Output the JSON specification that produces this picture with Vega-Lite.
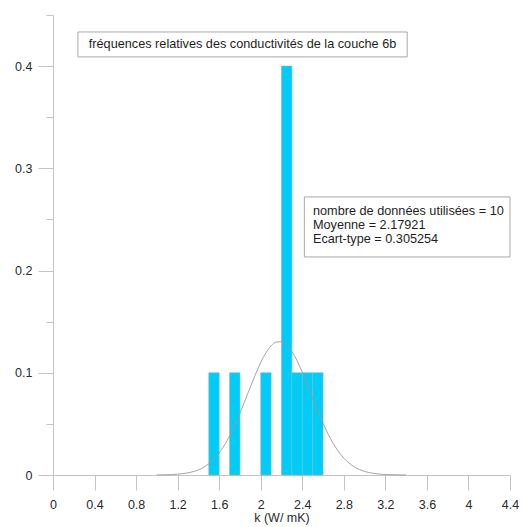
{
  "$schema": "https://vega.github.io/schema/vega-lite/v6.json",
  "width": 457,
  "height": 460,
  "autosize": "none",
  "padding": {"left": 53, "top": 15, "right": 18, "bottom": 52},
  "background": "white",
  "config": {"view": {"stroke": null}, "font": "Liberation Sans"},
  "layer": [
    {
      "data": {"values": [
        {"k": 1.5, "k2": 1.6, "f": 0.1},
        {"k": 1.7, "k2": 1.8, "f": 0.1},
        {"k": 2.0, "k2": 2.1, "f": 0.1},
        {"k": 2.2, "k2": 2.3, "f": 0.4},
        {"k": 2.3, "k2": 2.4, "f": 0.1},
        {"k": 2.4, "k2": 2.5, "f": 0.1},
        {"k": 2.5, "k2": 2.6, "f": 0.1}
      ]},
      "mark": {"type": "rect", "fill": "#00CCF8", "stroke": "#7fb8c4", "strokeWidth": 0.6},
      "encoding": {
        "x": {"field": "k", "type": "quantitative",
          "scale": {"domain": [0, 4.4], "nice": false, "zero": false},
          "axis": {
            "title": "k (W/ mK)",
            "values": [0,0.2,0.4,0.6,0.8,1,1.2,1.4,1.6,1.8,2,2.2,2.4,2.6,2.8,3,3.2,3.4,3.6,3.8,4,4.2,4.4],
            "format": "~g",
            "labelExpr": "round(datum.value*10)%4==0 ? datum.label : ''",
            "tickSize": {"condition": {"test": "round(datum.value*10)%4!=0", "value": 8}, "value": 15},
            "grid": false,
            "domainColor": "#c4c4c4", "tickColor": "#c4c4c4",
            "labelColor": "#2a2a2a", "labelFontSize": 12.5, "labelPadding": 8,
            "labelFlush": false, "labelOverlap": false,
            "titleColor": "#2a2a2a", "titleFontSize": 12.5, "titleFontWeight": "normal", "titlePadding": 1
          }
        },
        "x2": {"field": "k2"},
        "y": {"field": "f", "type": "quantitative",
          "scale": {"domain": [0, 0.45], "nice": false},
          "axis": {
            "title": null,
            "values": [0,0.05,0.1,0.15,0.2,0.25,0.3,0.35,0.4,0.45],
            "format": "~g",
            "labelExpr": "round(datum.value*100)%10==0 ? datum.label : ''",
            "tickSize": {"condition": {"test": "round(datum.value*100)%10!=0", "value": 7}, "value": 15},
            "grid": false,
            "domainColor": "#c4c4c4", "tickColor": "#c4c4c4",
            "labelColor": "#2a2a2a", "labelFontSize": 12.5, "labelPadding": 6,
            "labelFlush": false, "labelOverlap": false
          }
        },
        "y2": {"datum": 0}
      }
    },
    {
      "data": {"values": [
        {"k": 1.00, "f": 0.0001}, {"k": 1.05, "f": 0.0001}, {"k": 1.10, "f": 0.0003}, {"k": 1.15, "f": 0.0004},
        {"k": 1.20, "f": 0.0008}, {"k": 1.25, "f": 0.0013}, {"k": 1.30, "f": 0.0021}, {"k": 1.35, "f": 0.0033},
        {"k": 1.40, "f": 0.0050}, {"k": 1.45, "f": 0.0075}, {"k": 1.50, "f": 0.0110}, {"k": 1.55, "f": 0.0156},
        {"k": 1.60, "f": 0.0216}, {"k": 1.65, "f": 0.0291}, {"k": 1.70, "f": 0.0381}, {"k": 1.75, "f": 0.0486},
        {"k": 1.80, "f": 0.0604}, {"k": 1.85, "f": 0.0731}, {"k": 1.90, "f": 0.0860}, {"k": 1.95, "f": 0.0986},
        {"k": 2.00, "f": 0.1100}, {"k": 2.05, "f": 0.1195}, {"k": 2.10, "f": 0.1264}, {"k": 2.15, "f": 0.1301},
        {"k": 2.20, "f": 0.1304}, {"k": 2.25, "f": 0.1272}, {"k": 2.30, "f": 0.1209}, {"k": 2.35, "f": 0.1118},
        {"k": 2.40, "f": 0.1006}, {"k": 2.45, "f": 0.0882}, {"k": 2.50, "f": 0.0752}, {"k": 2.55, "f": 0.0625},
        {"k": 2.60, "f": 0.0505}, {"k": 2.65, "f": 0.0398}, {"k": 2.70, "f": 0.0305}, {"k": 2.75, "f": 0.0228},
        {"k": 2.80, "f": 0.0165}, {"k": 2.85, "f": 0.0117}, {"k": 2.90, "f": 0.0080}, {"k": 2.95, "f": 0.0054},
        {"k": 3.00, "f": 0.0035}, {"k": 3.05, "f": 0.0022}, {"k": 3.10, "f": 0.0014}, {"k": 3.15, "f": 0.0008},
        {"k": 3.20, "f": 0.0005}, {"k": 3.25, "f": 0.0003}, {"k": 3.30, "f": 0.0002}, {"k": 3.35, "f": 0.0001},
        {"k": 3.40, "f": 0.0000}
      ]},
      "mark": {"type": "line", "stroke": "#9a9a9a", "strokeWidth": 0.9, "interpolate": "monotone"},
      "encoding": {
        "x": {"field": "k", "type": "quantitative", "title": "k (W/ mK)"},
        "y": {"field": "f", "type": "quantitative", "title": null}
      }
    },
    {
      "data": {"values": [{"t": "fréquences relatives des conductivités de la couche 6b"}]},
      "layer": [
        {
          "mark": {"type": "rect", "fill": "white", "stroke": "#a8a8a8", "strokeWidth": 1},
          "encoding": {
            "x": {"datum": 0.24}, "x2": {"datum": 3.41},
            "y": {"datum": 0.4334}, "y2": {"datum": 0.409}
          }
        },
        {
          "mark": {"type": "text", "align": "center", "baseline": "middle", "fontSize": 12.7, "color": "#1e1e1e"},
          "encoding": {
            "x": {"datum": 1.825}, "y": {"datum": 0.4212},
            "text": {"field": "t", "type": "nominal"}
          }
        }
      ]
    },
    {
      "data": {"values": [{"t": "nombre de données utilisées = 10\nMoyenne = 2.17921\nEcart-type = 0.305254"}]},
      "layer": [
        {
          "mark": {"type": "rect", "fill": "white", "stroke": "#a8a8a8", "strokeWidth": 1},
          "encoding": {
            "x": {"datum": 2.42}, "x2": {"datum": 4.4},
            "y": {"datum": 0.272}, "y2": {"datum": 0.2133}
          }
        },
        {
          "mark": {"type": "text", "align": "left", "baseline": "middle", "fontSize": 12.7, "lineBreak": "\n", "lineHeight": 14, "color": "#1e1e1e"},
          "encoding": {
            "x": {"datum": 2.503}, "y": {"datum": 0.2583},
            "text": {"field": "t", "type": "nominal"}
          }
        }
      ]
    }
  ]
}
